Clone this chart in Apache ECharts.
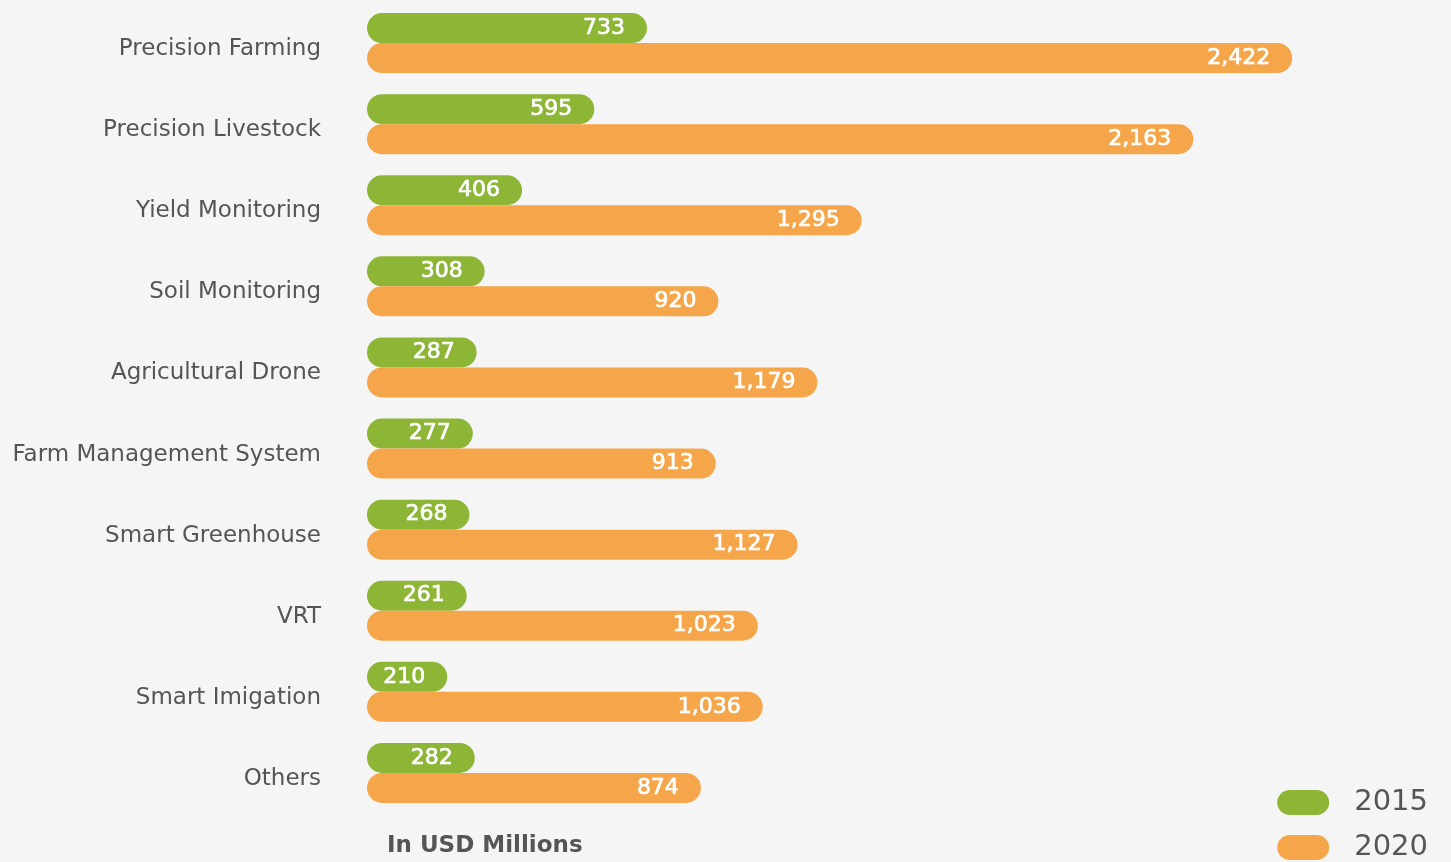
<!DOCTYPE html>
<html>
<head>
<meta charset="utf-8">
<script src="https://cdn.jsdelivr.net/npm/echarts@6/dist/echarts.min.js"></script>
<style>
html,body{margin:0;padding:0;background:#f5f5f5;}
#c{width:1451px;height:862px;}
</style>
</head>
<body>
<div id="c"></div>
<script>
const categories = ["Precision Farming","Precision Livestock","Yield Monitoring","Soil Monitoring","Agricultural Drone","Farm Management System","Smart Greenhouse","VRT","Smart Imigation","Others"];
const values2015 = [733,595,406,308,287,277,268,261,210,282];
const values2020 = [2422,2163,1295,920,1179,913,1127,1023,1036,874];
const seriesNames = ["2015","2020"];
const unitNote = "In USD Millions";

const chart = echarts.init(document.getElementById('c'));
const fmt = p => Number(p.value).toLocaleString('en-US');
const labelStyle = {
  show: true, position: 'insideRight', distance: 22,
  color: '#ffffff', fontSize: 22, fontFamily: 'DejaVu Sans',
  textBorderColor: '#ffffff', textBorderWidth: 0.7,
  formatter: fmt
};
const pill = 'path://M12.5,0H39.5A12.5,12.5,0,0,1,39.5,25H12.5A12.5,12.5,0,0,1,12.5,0Z';
chart.setOption({
  backgroundColor: '#f5f5f5',
  animation: false,
  grid: {left: 367, right: 129, top: 2.5, bottom: 48.5, containLabel: false},
  xAxis: {type: 'value', min: 0, max: 2500, show: false},
  yAxis: {
    type: 'category', data: categories, inverse: true,
    axisLine: {show: false}, axisTick: {show: false}, splitLine: {show: false},
    axisLabel: {margin: 46, color: '#555555', fontSize: 23, fontFamily: 'DejaVu Sans',
                verticalAlign: 'top', lineHeight: 12}
  },
  legend: {
    orient: 'vertical', right: 18, bottom: -5,
    itemWidth: 52, itemHeight: 25, itemGap: 16,
    icon: pill,
    textStyle: {color: '#555555', fontSize: 29, fontFamily: 'DejaVu Sans', padding: [0,0,0,20]},
    data: seriesNames
  },
  graphic: [{
    type: 'text', left: 387, top: 835,
    style: {text: unitNote, fill: '#555555', fontSize: 23, fontWeight: 'bold', fontFamily: 'DejaVu Sans'}
  }],
  series: [
    {name: seriesNames[0], type: 'bar', data: values2015, barWidth: 30, barGap: '0%',
     itemStyle: {color: '#8db636', borderRadius: 15}, label: labelStyle},
    {name: seriesNames[1], type: 'bar', data: values2020, barWidth: 30,
     itemStyle: {color: '#f6a64a', borderRadius: 15}, label: labelStyle}
  ]
});
</script>
</body>
</html>
